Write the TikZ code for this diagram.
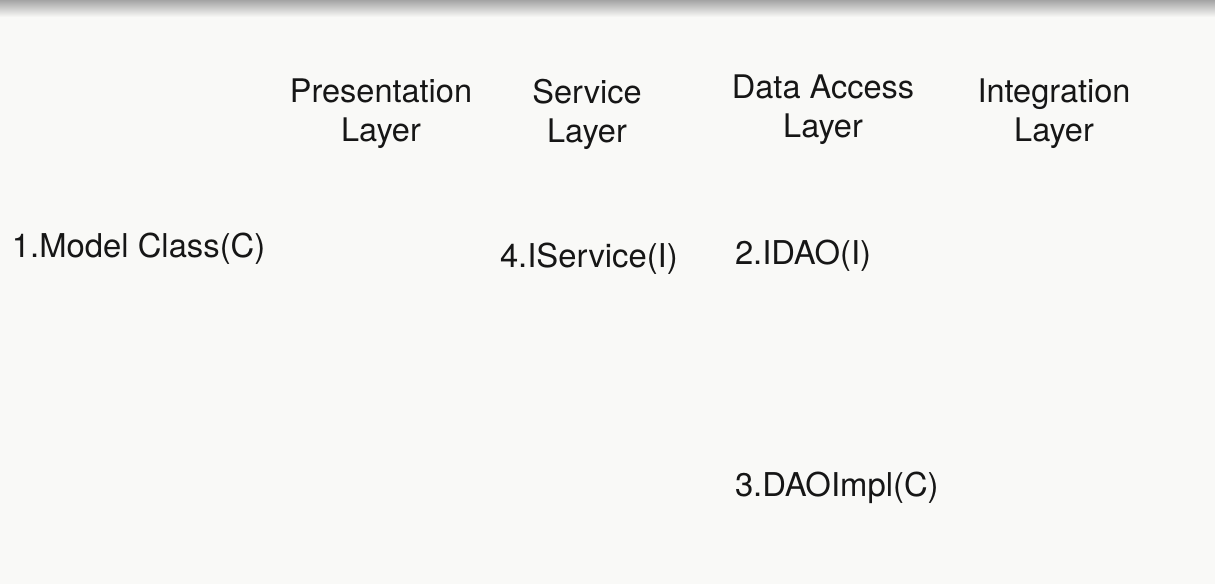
\documentclass[tikz,border=0pt]{standalone}
\usepackage{fontspec}
\setmainfont{TeX Gyre Heros}
\begin{document}
\begin{tikzpicture}[x=1pt,y=-1pt,
  every node/.style={inner sep=0pt, outer sep=0pt, text=inkc},
  header/.style={anchor=north, align=center, font=\fontsize{32.5}{39}\selectfont},
  item/.style={anchor=base west, font=\fontsize{32.8}{39}\selectfont}]
\definecolor{bgc}{HTML}{F9F9F7}
\definecolor{shadec}{HTML}{A4A4A4}
\definecolor{inkc}{HTML}{161616}
\fill[bgc] (0,0) rectangle (1215,584);
\useasboundingbox (0,0) rectangle (1215,584);
\shade[top color=shadec, bottom color=bgc] (0,0) rectangle (1215,17);
% layer headers
\node[header] (pres) at (381,79) {Presentation\\Layer};
\node[header] (serv) at (587,79) {Service\\Layer};
\node[header] (dal)  at (823,75) {Data Access\\Layer};
\node[header] (integ) at (1054,79) {Integration\\Layer};
% items
\node[item] (model) at (12,257) {1.Model Class(C)};
\node[item] (iserv) at (500,267) {4.IService(I)};
\node[item] (idao) at (735,264) {2.IDAO(I)};
\node[item] (daoimpl) at (735,496) {3.DAOImpl(C)};
\end{tikzpicture}
\end{document}
